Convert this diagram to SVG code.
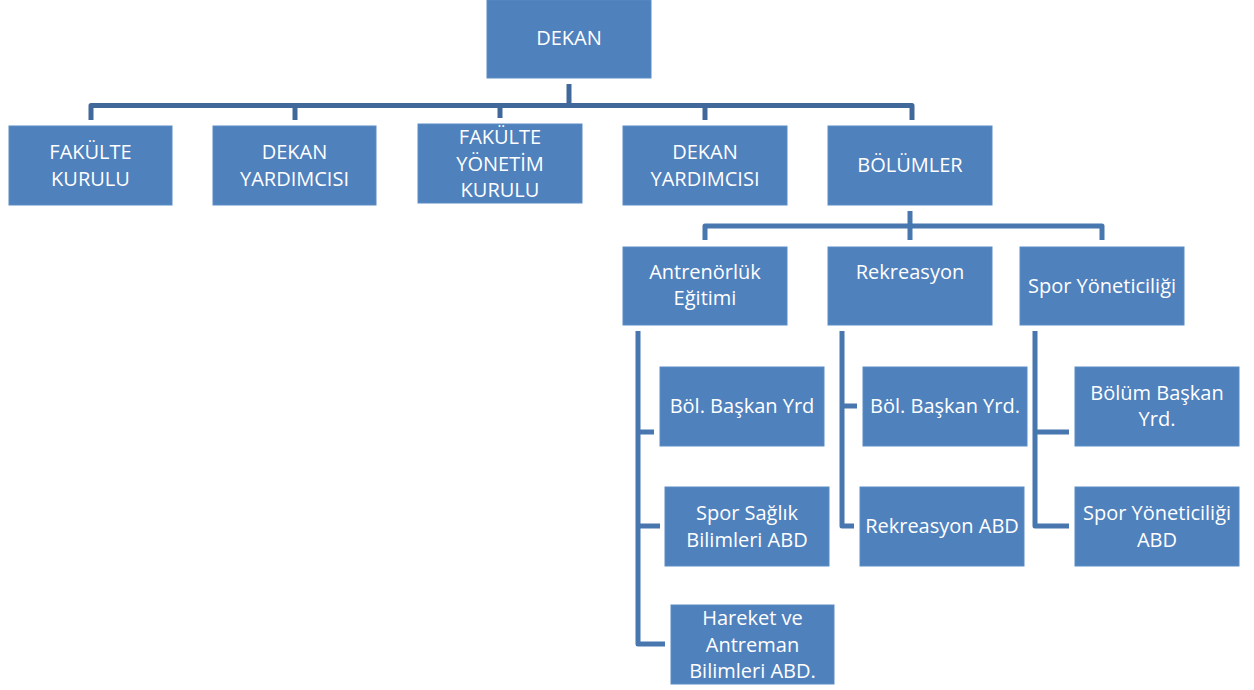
<svg xmlns="http://www.w3.org/2000/svg" width="1254" height="690" viewBox="0 0 1254 690">
  <style>
    .box { fill: #4F81BD; stroke: #5B8BC5; stroke-width: 1; }
    .lbl { fill: #FFFFFF; font-family: "Open Sans", "Noto Sans", "DejaVu Sans", sans-serif; font-size: 20px; text-anchor: middle; }
    .c1 { fill: none; stroke: #41689A; stroke-width: 5; stroke-linejoin: round; stroke-linecap: butt; }
    .c2 { fill: none; stroke: #4876AE; stroke-width: 5; stroke-linejoin: round; stroke-linecap: butt; }
  </style>
  <rect width="1254" height="690" fill="#FFFFFF"/>

  <g id="connectors">
    <path class="c1" d="M569 84 V105"/>
    <path class="c1" d="M91 120 V105.5 H912 V120"/>
    <path class="c1" d="M295 120 V105"/>
    <path class="c1" d="M500 118 V105"/>
    <path class="c1" d="M705 120 V105"/>
    <path class="c2" d="M910 211 V240"/>
    <path class="c2" d="M705 240 V226 H1102 V240"/>
    <path class="c2" d="M638 331 V644 H665"/>
    <path class="c2" d="M638 432 H654"/>
    <path class="c2" d="M638 526 H660"/>
    <path class="c2" d="M842 331 V526 H854"/>
    <path class="c2" d="M842 406 H857"/>
    <path class="c2" d="M1035 331 V526 H1069"/>
    <path class="c2" d="M1035 432 H1069"/>
  </g>

  <g id="dekan">
    <rect class="box" x="487" y="0" width="164" height="78"/>
    <text class="lbl" x="569" y="45">DEKAN</text>
  </g>
  <g id="fakulte-kurulu">
    <rect class="box" x="9" y="126" width="163" height="79"/>
    <text class="lbl" x="90.5" y="159">FAKÜLTE</text>
    <text class="lbl" x="90.5" y="186">KURULU</text>
  </g>
  <g id="dekan-yardimcisi-1">
    <rect class="box" x="213" y="126" width="163" height="79"/>
    <text class="lbl" x="294.5" y="159">DEKAN</text>
    <text class="lbl" x="294.5" y="186">YARDIMCISI</text>
  </g>
  <g id="fakulte-yonetim-kurulu">
    <rect class="box" x="418" y="124" width="164" height="79"/>
    <text class="lbl" x="500" y="144">FAKÜLTE</text>
    <text class="lbl" x="500" y="171">YÖNETİM</text>
    <text class="lbl" x="500" y="197">KURULU</text>
  </g>
  <g id="dekan-yardimcisi-2">
    <rect class="box" x="623" y="126" width="164" height="79"/>
    <text class="lbl" x="705" y="159">DEKAN</text>
    <text class="lbl" x="705" y="186">YARDIMCISI</text>
  </g>
  <g id="bolumler">
    <rect class="box" x="828" y="126" width="164" height="79"/>
    <text class="lbl" x="910" y="172">BÖLÜMLER</text>
  </g>

  <g id="antrenorluk">
    <rect class="box" x="623" y="247" width="164" height="78"/>
    <text class="lbl" x="705" y="279">Antrenörlük</text>
    <text class="lbl" x="705" y="305">Eğitimi</text>
  </g>
  <g id="rekreasyon">
    <rect class="box" x="828" y="247" width="164" height="78"/>
    <text class="lbl" x="910" y="279">Rekreasyon</text>
  </g>
  <g id="spor-yoneticiligi">
    <rect class="box" x="1020" y="247" width="164" height="78"/>
    <text class="lbl" x="1102" y="293">Spor Yöneticiliği</text>
  </g>

  <g id="ant-bol-baskan-yrd">
    <rect class="box" x="660" y="367" width="164" height="79"/>
    <text class="lbl" x="742" y="413">Böl. Başkan Yrd</text>
  </g>
  <g id="spor-saglik">
    <rect class="box" x="665" y="487" width="164" height="79"/>
    <text class="lbl" x="747" y="520">Spor Sağlık</text>
    <text class="lbl" x="747" y="547">Bilimleri ABD</text>
  </g>
  <g id="hareket-antreman">
    <rect class="box" x="671" y="605" width="163" height="79"/>
    <text class="lbl" x="752.5" y="625">Hareket ve</text>
    <text class="lbl" x="752.5" y="652">Antreman</text>
    <text class="lbl" x="752.5" y="678">Bilimleri ABD.</text>
  </g>

  <g id="rek-bol-baskan-yrd">
    <rect class="box" x="863" y="367" width="164" height="79"/>
    <text class="lbl" x="945" y="413">Böl. Başkan Yrd.</text>
  </g>
  <g id="rekreasyon-abd">
    <rect class="box" x="860" y="487" width="164" height="79"/>
    <text class="lbl" x="942" y="533">Rekreasyon ABD</text>
  </g>

  <g id="bolum-baskan-yrd">
    <rect class="box" x="1075" y="367" width="164" height="79"/>
    <text class="lbl" x="1157" y="400">Bölüm Başkan</text>
    <text class="lbl" x="1157" y="426">Yrd.</text>
  </g>
  <g id="spor-yoneticiligi-abd">
    <rect class="box" x="1075" y="487" width="164" height="79"/>
    <text class="lbl" x="1157" y="520">Spor Yöneticiliği</text>
    <text class="lbl" x="1157" y="547">ABD</text>
  </g>
</svg>
